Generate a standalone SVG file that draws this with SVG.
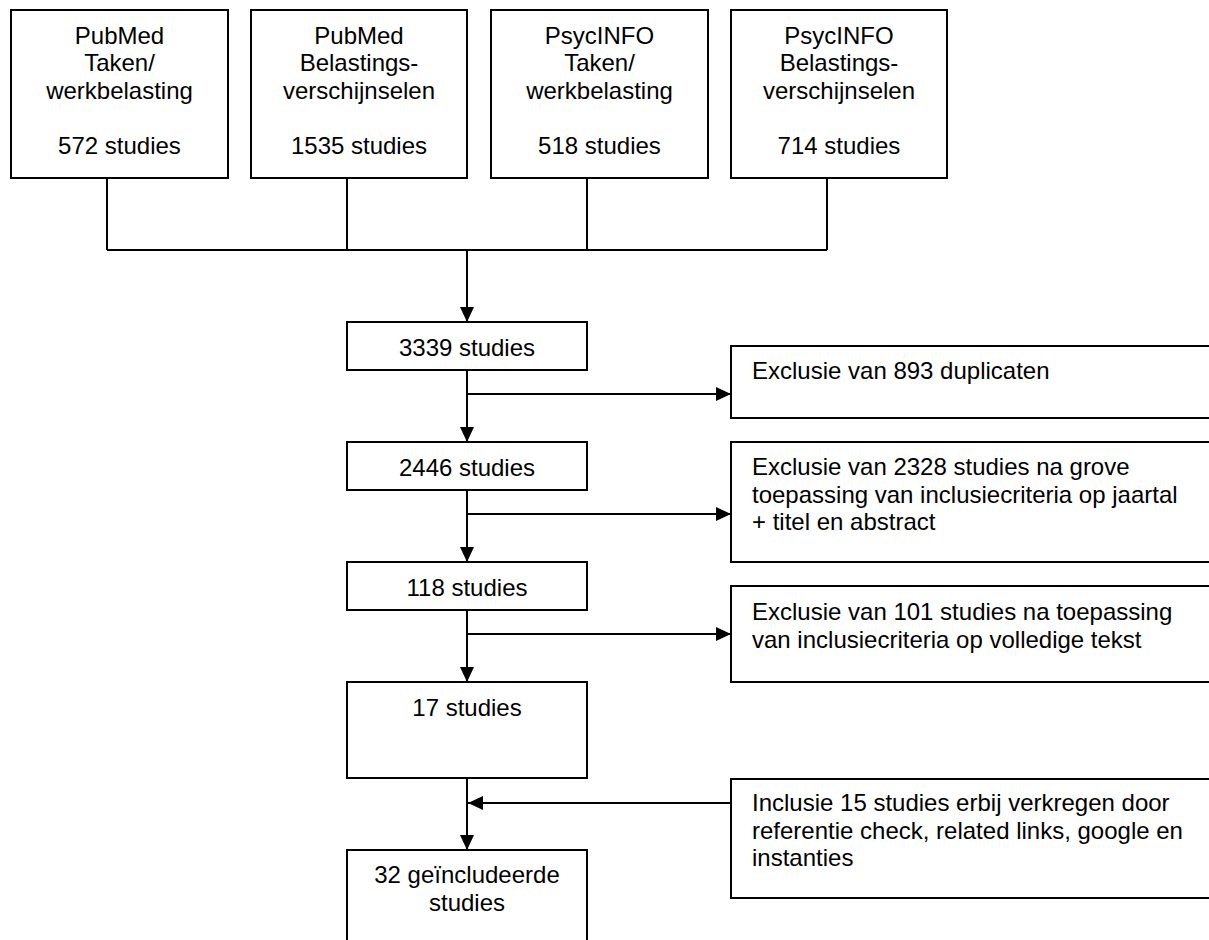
<svg xmlns="http://www.w3.org/2000/svg" width="1209" height="940" viewBox="0 0 1209 940">
<style>
.box{fill:#fff;stroke:#000;stroke-width:2}
.t{font-family:"Liberation Sans",Arial,sans-serif;font-size:24px;fill:#000}
.c{text-anchor:middle}
.ln{fill:none;stroke:#000;stroke-width:2}
</style>
<defs>
<marker id="ah" markerUnits="userSpaceOnUse" markerWidth="15" markerHeight="14" refX="15" refY="7" orient="auto">
<path d="M0,0 L15,7 L0,14 z" fill="#000"/>
</marker>
</defs>
<rect width="1209" height="940" fill="#fff"/>
<g id="connectors">
<path class="ln" d="M107,178 V250 M347,178 V250 M587,178 V250 M827,178 V250 M107,250 H827"/>
<path class="ln" d="M467,250 V322" marker-end="url(#ah)"/>
<path class="ln" d="M467,370 V442" marker-end="url(#ah)"/>
<path class="ln" d="M467,394 H731" marker-end="url(#ah)"/>
<path class="ln" d="M467,490 V562" marker-end="url(#ah)"/>
<path class="ln" d="M467,514 H731" marker-end="url(#ah)"/>
<path class="ln" d="M467,610 V682" marker-end="url(#ah)"/>
<path class="ln" d="M467,634 H731" marker-end="url(#ah)"/>
<path class="ln" d="M467,778 V850" marker-end="url(#ah)"/>
<path class="ln" d="M731,803 H468" marker-end="url(#ah)"/>
</g>
<g id="n1"><rect class="box" x="11" y="10" width="217" height="168"/>
<text class="t c" x="119.5" y="43.5">PubMed</text><text class="t c" x="119.5" y="71">Taken/</text><text class="t c" x="119.5" y="98.5">werkbelasting</text><text class="t c" x="119.5" y="154">572 studies</text></g>
<g id="n2"><rect class="box" x="251" y="10" width="216" height="168"/>
<text class="t c" x="359" y="43.5">PubMed</text><text class="t c" x="359" y="71">Belastings-</text><text class="t c" x="359" y="98.5">verschijnselen</text><text class="t c" x="359" y="154">1535 studies</text></g>
<g id="n3"><rect class="box" x="491" y="10" width="217" height="168"/>
<text class="t c" x="599.5" y="43.5">PsycINFO</text><text class="t c" x="599.5" y="71">Taken/</text><text class="t c" x="599.5" y="98.5">werkbelasting</text><text class="t c" x="599.5" y="154">518 studies</text></g>
<g id="n4"><rect class="box" x="731" y="10" width="216" height="168"/>
<text class="t c" x="839" y="43.5">PsycINFO</text><text class="t c" x="839" y="71">Belastings-</text><text class="t c" x="839" y="98.5">verschijnselen</text><text class="t c" x="839" y="154">714 studies</text></g>
<g id="n5"><rect class="box" x="347" y="322" width="240" height="48"/>
<text class="t c" x="467" y="355.5">3339 studies</text></g>
<g id="n6"><rect class="box" x="347" y="442" width="240" height="48"/>
<text class="t c" x="467" y="475.5">2446 studies</text></g>
<g id="n7"><rect class="box" x="347" y="562" width="240" height="48"/>
<text class="t c" x="467" y="595.5">118 studies</text></g>
<g id="n8"><rect class="box" x="347" y="682" width="240" height="96"/>
<text class="t c" x="467" y="715.5">17 studies</text></g>
<g id="n9"><rect class="box" x="347" y="850" width="240" height="110"/>
<text class="t c" x="467" y="883">32 geïncludeerde</text><text class="t c" x="467" y="910.5">studies</text></g>
<g id="e1"><rect class="box" x="731" y="346" width="490" height="72"/>
<text class="t" x="752" y="379">Exclusie van 893 duplicaten</text></g>
<g id="e2"><rect class="box" x="731" y="442" width="490" height="120"/>
<text class="t" x="752" y="475">Exclusie van 2328 studies na grove</text><text class="t" x="752" y="502.5">toepassing van inclusiecriteria op jaartal</text><text class="t" x="752" y="530">+ titel en abstract</text></g>
<g id="e3"><rect class="box" x="731" y="586" width="490" height="96"/>
<text class="t" x="752" y="620">Exclusie van 101 studies na toepassing</text><text class="t" x="752" y="647.5">van inclusiecriteria op volledige tekst</text></g>
<g id="e4"><rect class="box" x="731" y="779" width="490" height="119"/>
<text class="t" x="752" y="811">Inclusie 15 studies erbij verkregen door</text><text class="t" x="752" y="838.5">referentie check, related links, google en</text><text class="t" x="752" y="866">instanties</text></g>
</svg>
